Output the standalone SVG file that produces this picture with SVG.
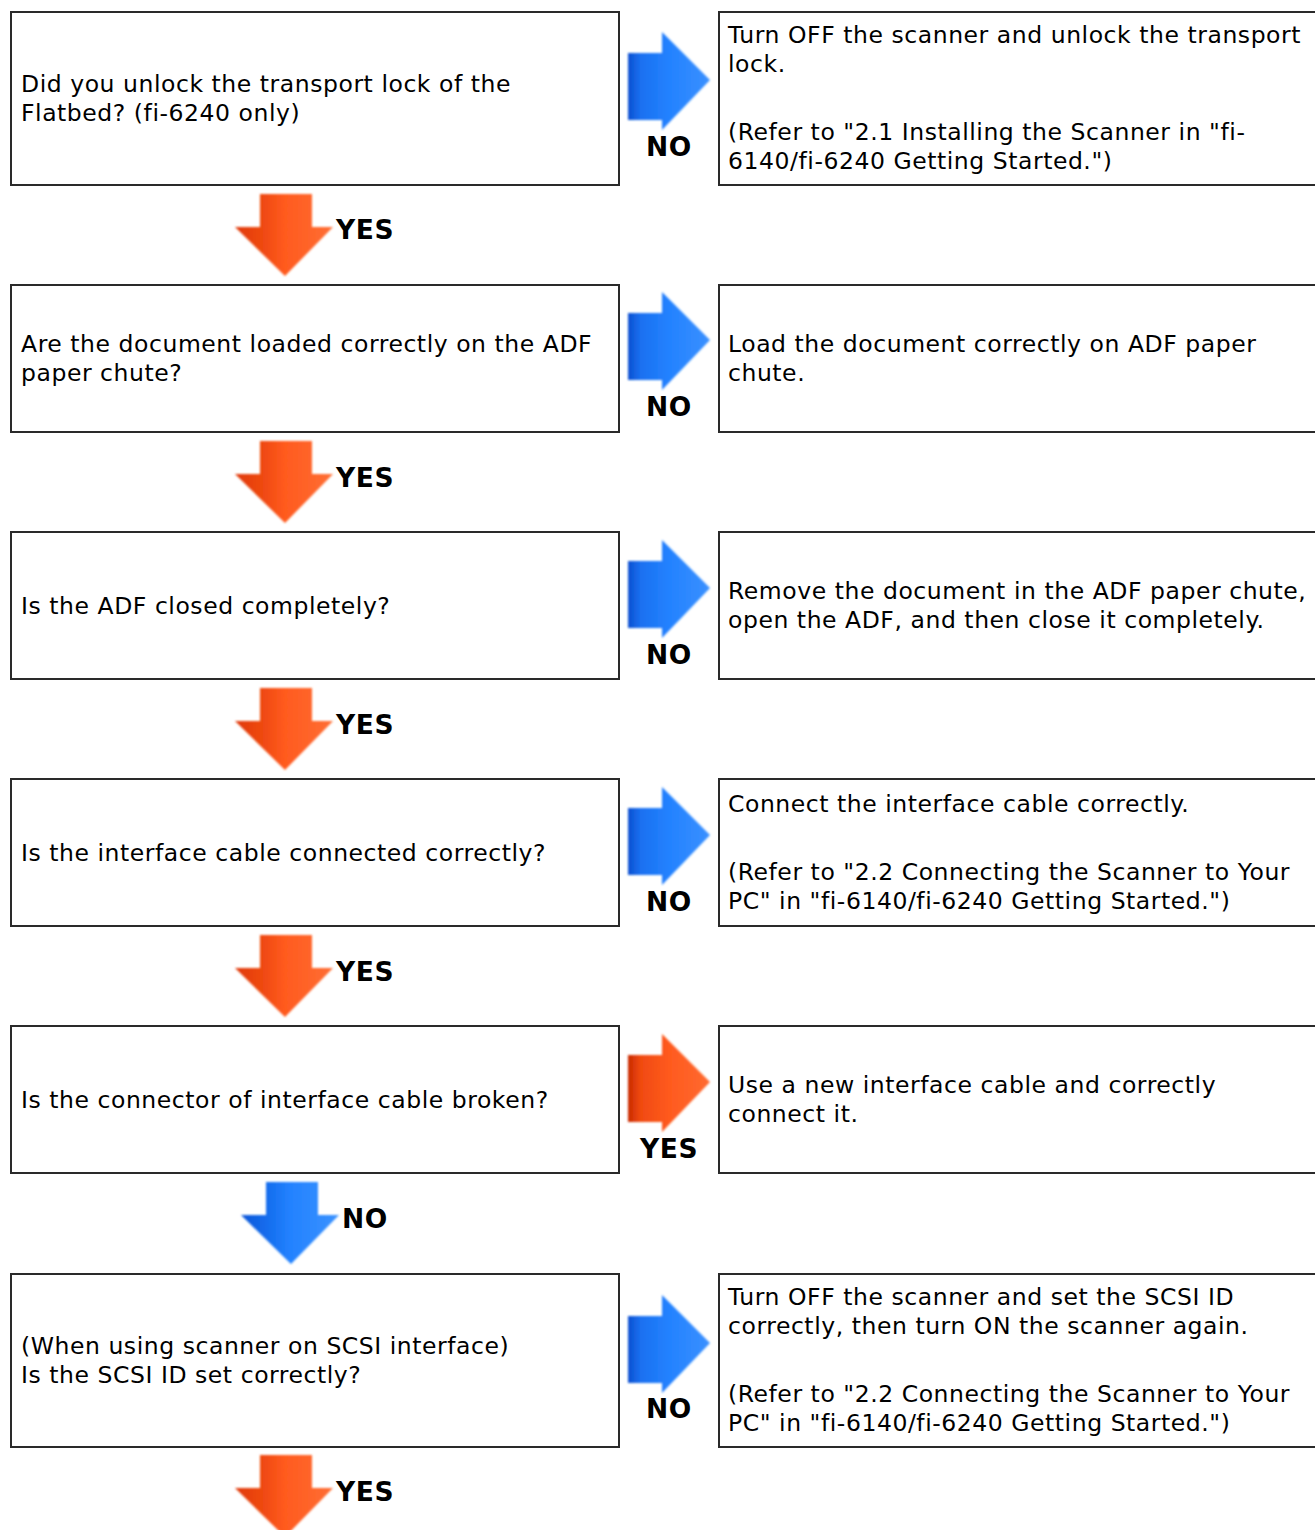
<svg xmlns="http://www.w3.org/2000/svg" width="1315" height="1530" viewBox="0 0 1315 1530">
<style>
.box{fill:#fff;stroke:#2a2a2a;stroke-width:2}
.t{font-family:"DejaVu Sans",Verdana,sans-serif;font-size:23.5px;letter-spacing:0.55px;font-variant-ligatures:none;fill:#000}
.lb{font-family:"DejaVu Sans","Liberation Sans",sans-serif;font-weight:bold;font-size:26.5px;letter-spacing:0.6px;fill:#000}
</style>
<defs>
<linearGradient id="gbR" x1="0" y1="0" x2="1" y2="0">
<stop offset="0" stop-color="#0a4fd0"/><stop offset="0.15" stop-color="#1a70f0"/><stop offset="0.5" stop-color="#2382ff"/><stop offset="1" stop-color="#3a90ff"/>
</linearGradient>
<linearGradient id="goR" x1="0" y1="0" x2="1" y2="0">
<stop offset="0" stop-color="#c82a00"/><stop offset="0.15" stop-color="#f04a10"/><stop offset="0.5" stop-color="#ff5a1e"/><stop offset="1" stop-color="#ff6a30"/>
</linearGradient>
<linearGradient id="goD" x1="0" y1="0" x2="1" y2="0">
<stop offset="0" stop-color="#e03a08"/><stop offset="0.3" stop-color="#f04a12"/><stop offset="0.5" stop-color="#ff5a1e"/><stop offset="1" stop-color="#ff6e34"/>
</linearGradient>
<linearGradient id="gbD" x1="0" y1="0" x2="1" y2="0">
<stop offset="0" stop-color="#0a55d8"/><stop offset="0.3" stop-color="#1670f0"/><stop offset="0.5" stop-color="#2382ff"/><stop offset="1" stop-color="#3a92ff"/>
</linearGradient>
<filter id="soft" x="-10%" y="-10%" width="120%" height="120%"><feGaussianBlur stdDeviation="0.8"/></filter>
<path id="ar" d="M0,21 L34,21 L34,0 L82,48 L34,98 L34,88 L0,88 Z"/>
<path id="ad" d="M25,0 L77,0 L77,33 L98,33 L50,82 L0,33 L25,33 Z"/>
</defs>

<g id="connectors">
<use href="#ar" x="628" y="32" fill="url(#gbR)" filter="url(#soft)"/>
<use href="#ar" x="628" y="292" fill="url(#gbR)" filter="url(#soft)"/>
<use href="#ar" x="628" y="540" fill="url(#gbR)" filter="url(#soft)"/>
<use href="#ar" x="628" y="787" fill="url(#gbR)" filter="url(#soft)"/>
<use href="#ar" x="628" y="1034" fill="url(#goR)" filter="url(#soft)"/>
<use href="#ar" x="628" y="1295" fill="url(#gbR)" filter="url(#soft)"/>
<use href="#ad" x="235" y="194" fill="url(#goD)" filter="url(#soft)"/>
<use href="#ad" x="235" y="441" fill="url(#goD)" filter="url(#soft)"/>
<use href="#ad" x="235" y="688" fill="url(#goD)" filter="url(#soft)"/>
<use href="#ad" x="235" y="935" fill="url(#goD)" filter="url(#soft)"/>
<use href="#ad" x="241" y="1182" fill="url(#gbD)" filter="url(#soft)"/>
<use href="#ad" x="235" y="1455" fill="url(#goD)" filter="url(#soft)"/>
<text class="lb" x="669" y="156" text-anchor="middle">NO</text>
<text class="lb" x="669" y="416" text-anchor="middle">NO</text>
<text class="lb" x="669" y="664" text-anchor="middle">NO</text>
<text class="lb" x="669" y="911" text-anchor="middle">NO</text>
<text class="lb" x="669" y="1158" text-anchor="middle">YES</text>
<text class="lb" x="669" y="1418" text-anchor="middle">NO</text>
<text class="lb" x="336" y="239">YES</text>
<text class="lb" x="336" y="487">YES</text>
<text class="lb" x="336" y="734">YES</text>
<text class="lb" x="336" y="981">YES</text>
<text class="lb" x="342" y="1228">NO</text>
<text class="lb" x="336" y="1501">YES</text>
</g>

<g id="q1"><rect class="box" x="11" y="12" width="608" height="173"/>
<text class="t" x="21" y="92">Did you unlock the transport lock of the</text>
<text class="t" x="21" y="121">Flatbed? (fi-6240 only)</text></g>
<g id="a1"><rect class="box" x="719" y="12" width="700" height="173"/>
<text class="t" x="728" y="43">Turn OFF the scanner and unlock the transport</text>
<text class="t" x="728" y="72">lock.</text>
<text class="t" x="728" y="140">(Refer to "2.1 Installing the Scanner in "fi-</text>
<text class="t" x="728" y="169">6140/fi-6240 Getting Started.")</text></g>

<g id="q2"><rect class="box" x="11" y="285" width="608" height="147"/>
<text class="t" x="21" y="352">Are the document loaded correctly on the ADF</text>
<text class="t" x="21" y="381">paper chute?</text></g>
<g id="a2"><rect class="box" x="719" y="285" width="700" height="147"/>
<text class="t" x="728" y="352">Load the document correctly on ADF paper</text>
<text class="t" x="728" y="381">chute.</text></g>

<g id="q3"><rect class="box" x="11" y="532" width="608" height="147"/>
<text class="t" x="21" y="614">Is the ADF closed completely?</text></g>
<g id="a3"><rect class="box" x="719" y="532" width="700" height="147"/>
<text class="t" x="728" y="599">Remove the document in the ADF paper chute,</text>
<text class="t" x="728" y="628">open the ADF, and then close it completely.</text></g>

<g id="q4"><rect class="box" x="11" y="779" width="608" height="147"/>
<text class="t" x="21" y="861">Is the interface cable connected correctly?</text></g>
<g id="a4"><rect class="box" x="719" y="779" width="700" height="147"/>
<text class="t" x="728" y="812">Connect the interface cable correctly.</text>
<text class="t" x="728" y="880">(Refer to "2.2 Connecting the Scanner to Your</text>
<text class="t" x="728" y="909">PC" in "fi-6140/fi-6240 Getting Started.")</text></g>

<g id="q5"><rect class="box" x="11" y="1026" width="608" height="147"/>
<text class="t" x="21" y="1108">Is the connector of interface cable broken?</text></g>
<g id="a5"><rect class="box" x="719" y="1026" width="700" height="147"/>
<text class="t" x="728" y="1093">Use a new interface cable and correctly</text>
<text class="t" x="728" y="1122">connect it.</text></g>

<g id="q6"><rect class="box" x="11" y="1274" width="608" height="173"/>
<text class="t" x="21" y="1354">(When using scanner on SCSI interface)</text>
<text class="t" x="21" y="1383">Is the SCSI ID set correctly?</text></g>
<g id="a6"><rect class="box" x="719" y="1274" width="700" height="173"/>
<text class="t" x="728" y="1305">Turn OFF the scanner and set the SCSI ID</text>
<text class="t" x="728" y="1334">correctly, then turn ON the scanner again.</text>
<text class="t" x="728" y="1402">(Refer to "2.2 Connecting the Scanner to Your</text>
<text class="t" x="728" y="1431">PC" in "fi-6140/fi-6240 Getting Started.")</text></g>
</svg>
